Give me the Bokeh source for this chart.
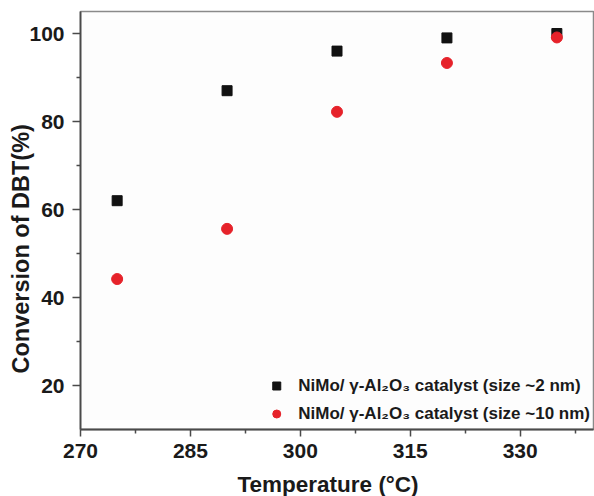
from bokeh.plotting import figure
from bokeh.models import Range1d, FixedTicker, Legend, LegendItem, Title
from bokeh.embed import file_html
from bokeh.resources import INLINE

temperature = [275, 290, 305, 320, 335]
conv_2nm = [62.0, 87.0, 96.0, 99.0, 100.0]
conv_10nm = [44.2, 55.6, 82.2, 93.3, 99.1]

x_ticks = [270, 285, 300, 315, 330]
x_minor = [277.5, 292.5, 307.5, 322.5, 337.5]
y_ticks = [20, 40, 60, 80, 100]
y_minor = [30, 50, 70, 90]

label_2nm = "NiMo/ γ-Al₂O₃ catalyst (size ~2 nm)"
label_10nm = "NiMo/ γ-Al₂O₃ catalyst (size ~10 nm)"
x_title = "Temperature (°C)"
y_title = "Conversion of DBT(%)"

FONT = "Liberation Sans"

p = figure(width=594, height=496, output_backend="svg", toolbar_location=None,
           x_range=Range1d(270, 340), y_range=Range1d(10, 105),
           min_border_left=80, min_border_right=1, min_border_top=11, min_border_bottom=67)
p.background_fill_color = "#fdfdfd"
p.border_fill_color = "white"
p.grid.visible = False
p.outline_line_color = "#8a8a8a"
p.outline_line_width = 1.5

for ax, ticks, minor in ((p.xaxis[0], x_ticks, x_minor), (p.yaxis[0], y_ticks, y_minor)):
    ax.ticker = FixedTicker(ticks=ticks, minor_ticks=minor)
    ax.axis_line_color = "#4a4a4a"
    ax.axis_line_width = 1.8
    ax.major_tick_line_color = "#4a4a4a"
    ax.minor_tick_line_color = "#4a4a4a"
    ax.major_tick_line_width = 1.5
    ax.minor_tick_line_width = 1.5
    ax.major_tick_in = 0
    ax.minor_tick_in = 0
    ax.major_label_text_font = FONT
    ax.major_label_text_font_style = "bold"
    ax.major_label_text_font_size = "21px"
    ax.major_label_text_color = "#1a1a1a"

p.xaxis.major_tick_out = 7
p.xaxis.minor_tick_out = 4
p.xaxis.major_label_standoff = 7
p.yaxis.major_tick_out = 8
p.yaxis.minor_tick_out = 4
p.yaxis.major_label_standoff = 8

# tiny blank axis label used only as a spacer above the x title
p.xaxis.axis_label = " "
p.xaxis.axis_label_text_font_size = "1px"
p.xaxis.axis_label_standoff = 5

r1 = p.scatter(temperature, conv_2nm, marker="square", size=10, color="#111111")
r2 = p.scatter(temperature, conv_10nm, marker="circle", size=11, color="#e6222a")

legend = Legend(items=[LegendItem(label=label_2nm, renderers=[r1]),
                       LegendItem(label=label_10nm, renderers=[r2])],
                location="bottom_right", margin=0, padding=3, spacing=3,
                glyph_width=20, glyph_height=25, label_standoff=12,
                label_text_font=FONT, label_text_font_style="bold",
                label_text_font_size="17px", label_text_color="#1a1a1a",
                background_fill_alpha=0, border_line_alpha=0)
p.add_layout(legend)

p.add_layout(Title(text=x_title, align="left", offset=157, standoff=0,
                   text_font=FONT, text_font_style="bold", text_font_size="22.5px",
                   text_color="#1a1a1a"), "below")
p.add_layout(Title(text=y_title, align="left", offset=56, standoff=-14,
                   text_font=FONT, text_font_style="bold", text_font_size="23.5px",
                   text_color="#1a1a1a"), "left")

open("out.html", "w").write(file_html(p, INLINE))
